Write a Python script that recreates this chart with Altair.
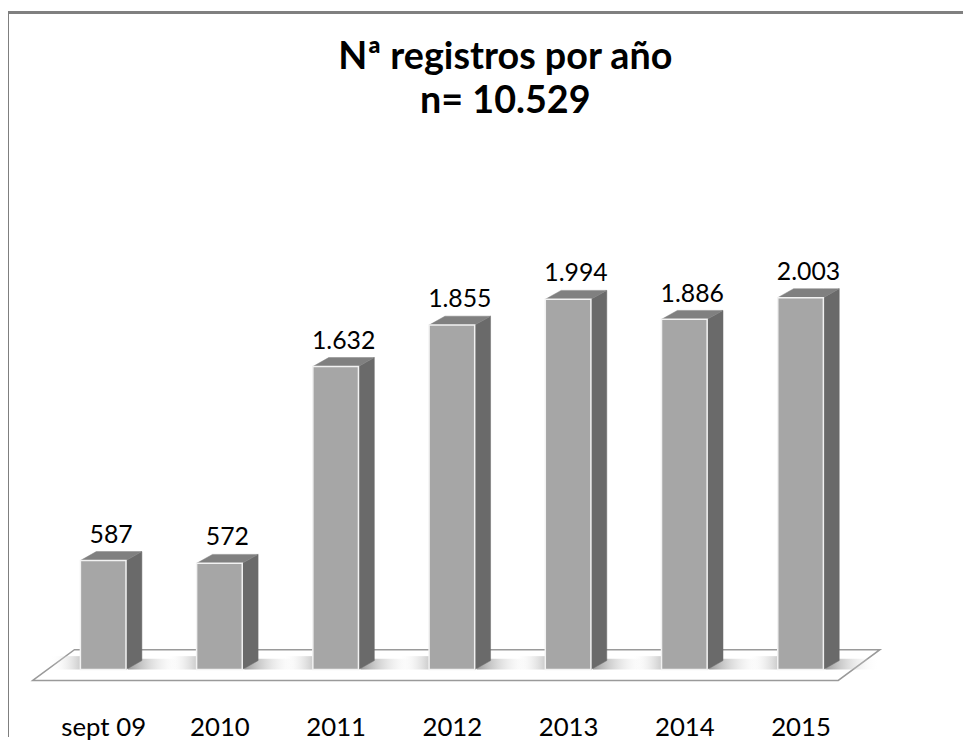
import altair as alt
import pandas as pd

# ---- data ----
categories = ["sept 09", "2010", "2011", "2012", "2013", "2014", "2015"]
values = [587, 572, 1632, 1855, 1994, 1886, 2003]
value_labels = ["587", "572", "1.632", "1.855", "1.994", "1.886", "2.003"]
title_lines = ["Nª registros por año", "n= 10.529"]

# ---- layout / style parameters ----
W, H = 963, 732
PX_PER_CAT = 117.2          # pixels between category centres
X0_PX = 96.0                # first centre, in view pixels
UNITS_PER_PX = 2003 / 375.0 # value units per vertical pixel
ZERO_PX = 664.0             # baseline, in view pixels

HALF = 23 / PX_PER_CAT      # half width of a bar front
DX = 16 / PX_PER_CAT        # 3-D depth, horizontal
DY = 9 * UNITS_PER_PX       # 3-D depth, vertical

x_dom = [(0 - X0_PX) / PX_PER_CAT, (W - X0_PX) / PX_PER_CAT]
y_dom = [-(H - ZERO_PX) * UNITS_PER_PX, ZERO_PX * UNITS_PER_PX]
xs = alt.Scale(domain=x_dom, nice=False, zero=False)
ys = alt.Scale(domain=y_dom, nice=False, zero=False)

n = len(categories)

# front faces
front = pd.DataFrame({
    "cat": categories,
    "xl": [i - HALF for i in range(n)],
    "xr": [i + HALF for i in range(n)],
    "v": values,
    "base": [0] * n,
    "lab": value_labels,
    "xc": [i + DX / 2 for i in range(n)],
    "vt": [v + DY for v in values],
})

# side faces (parallelograms)
side_rows = []
for i, (c, v) in enumerate(zip(categories, values)):
    side_rows.append({"cat": c, "x": i + HALF, "top": v, "bot": 0})
    side_rows.append({"cat": c, "x": i + HALF + DX, "top": v + DY, "bot": DY})
side = pd.DataFrame(side_rows)

# top faces (parallelograms)
top_rows = []
for i, (c, v) in enumerate(zip(categories, values)):
    xl, xr = i - HALF, i + HALF
    top_rows += [
        {"cat": c, "x": xl, "top": v, "bot": v},
        {"cat": c, "x": xl + DX, "top": v + DY, "bot": v},
        {"cat": c, "x": xr, "top": v + DY, "bot": v},
        {"cat": c, "x": xr + DX, "top": v + DY, "bot": v + DY},
    ]
topf = pd.DataFrame(top_rows)

# floor (parallelogram)
F_L = -71 / PX_PER_CAT
F_R = (n - 1) + 38 / PX_PER_CAT
F_DX = 42 / PX_PER_CAT
F_FRONT = -11 * UNITS_PER_PX
F_BACK = 20 * UNITS_PER_PX
floor = pd.DataFrame({
    "x": [F_L, F_L + F_DX, F_R, F_R + F_DX],
    "top": [F_FRONT, F_BACK, F_BACK, F_BACK],
    "bot": [F_FRONT, F_FRONT, F_FRONT, F_BACK],
})

# soft floor shadows beside each bar
rs_rows, ls_rows = [], []
for i, c in enumerate(categories):
    xl, xr = i - HALF, i + HALF
    rs_rows.append({"cat": c, "x": xr + 2 / PX_PER_CAT, "top": DY * 1.2, "bot": 0})
    rs_rows.append({"cat": c, "x": xr + DX + 40 / PX_PER_CAT, "top": DY * 1.2, "bot": 0})
    ls_rows.append({"cat": c, "x": xl - 30 / PX_PER_CAT, "top": DY * 1.5, "bot": 0})
    ls_rows.append({"cat": c, "x": xl, "top": DY * 1.5, "bot": 0})
rshadow = pd.DataFrame(rs_rows)
lshadow = pd.DataFrame(ls_rows)

label_expr = "[" + ",".join("'%s'" % c for c in categories) + "][datum.value]"

floor_layer = alt.Chart(floor).mark_area(
    fill="white", stroke="#9a9a9a", strokeWidth=1.5, interpolate="linear", orient="vertical"
).encode(
    x=alt.X(
        "x:Q", scale=xs,
        axis=alt.Axis(
            values=list(range(n)), labelExpr=label_expr, title=None,
            domain=False, ticks=False, tickSize=0, grid=False,
            labelFont="Lato", labelFontSize=26, labelColor="#000000",
            labelBaseline="middle", labelPadding=0, offset=-9,
            labelFlush=False, labelOverlap=False,
        ),
    ),
    y=alt.Y("top:Q", scale=ys, axis=None),
    y2="bot:Q",
)

rshadow_layer = alt.Chart(rshadow).mark_area(
    orient="vertical",
    fill=alt.Gradient(
        gradient="linear", x1=0, x2=1, y1=0, y2=0,
        stops=[alt.GradientStop(offset=0, color="rgba(120,120,120,0.75)"),
               alt.GradientStop(offset=1, color="rgba(255,255,255,0)")],
    ),
).encode(
    x=alt.X("x:Q", scale=xs),
    y=alt.Y("top:Q", scale=ys),
    y2="bot:Q",
    detail="cat:N",
)

lshadow_layer = alt.Chart(lshadow).mark_area(
    orient="vertical",
    fill=alt.Gradient(
        gradient="linear", x1=0, x2=1, y1=0, y2=0,
        stops=[alt.GradientStop(offset=0, color="rgba(255,255,255,0)"),
               alt.GradientStop(offset=1, color="rgba(170,170,170,0.6)")],
    ),
).encode(
    x=alt.X("x:Q", scale=xs),
    y=alt.Y("top:Q", scale=ys),
    y2="bot:Q",
    detail="cat:N",
)

side_layer = alt.Chart(side).mark_area(
    fill="#6a6a6a", stroke="#6a6a6a", strokeWidth=0.5, orient="vertical"
).encode(
    x=alt.X("x:Q", scale=xs),
    y=alt.Y("top:Q", scale=ys),
    y2="bot:Q",
    detail="cat:N",
)

top_layer = alt.Chart(topf).mark_area(
    fill="#808080", stroke="#808080", strokeWidth=0.5, orient="vertical"
).encode(
    x=alt.X("x:Q", scale=xs),
    y=alt.Y("top:Q", scale=ys),
    y2="bot:Q",
    detail="cat:N",
)

front_layer = alt.Chart(front).mark_rect(
    fill="#a6a6a6", stroke="#f2f2f2", strokeWidth=1.5
).encode(
    x=alt.X("xl:Q", scale=xs),
    x2="xr:Q",
    y=alt.Y("base:Q", scale=ys),
    y2="v:Q",
)

text_layer = alt.Chart(front).mark_text(
    font="Lato", fontSize=25, color="#000000", baseline="alphabetic", dy=-9
).encode(
    x=alt.X("xc:Q", scale=xs),
    y=alt.Y("vt:Q", scale=ys),
    text="lab:N",
)

border_top = alt.Chart(front).mark_rule(color="#808080", strokeWidth=3).encode(
    x=alt.value(0), x2=alt.value(W), y=alt.value(1.5)
)
border_left = alt.Chart(front).mark_rule(color="#808080", strokeWidth=1).encode(
    x=alt.value(0.5), y=alt.value(0), y2=alt.value(H)
)

chart = alt.layer(
    floor_layer, lshadow_layer, rshadow_layer, side_layer, top_layer, front_layer,
    text_layer, border_top, border_left
).properties(
    width=W, height=H,
    autosize=alt.AutoSizeParams(type="none"),
    padding=0,
    title=alt.TitleParams(
        title_lines, font="Lato", fontSize=38, fontWeight="bold", color="#000000",
        anchor="middle", dx=20, offset=-149, lineHeight=44, baseline="bottom",
    ),
).configure_view(stroke=None)

chart.save("out.html", embed_options={"renderer": "svg", "actions": False})
